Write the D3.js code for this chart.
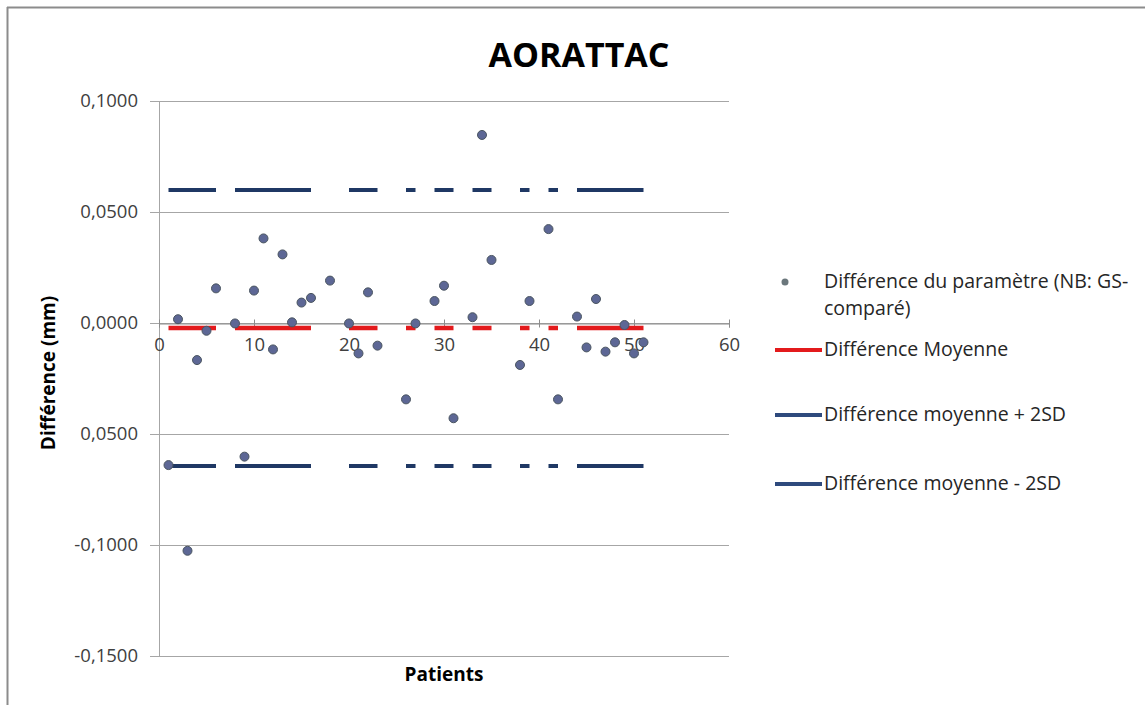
<!DOCTYPE html>
<html>
<head>
<meta charset="utf-8">
<script src="https://cdn.jsdelivr.net/npm/d3@7"></script>
<style>
  body { margin: 0; background: #fff; }
  text { font-family: "Open Sans", Carlito, Calibri, sans-serif; }
</style>
</head>
<body>
<svg class="chart" width="1145" height="705"></svg>
<script>
const patients = [1, 2, 3, 4, 5, 6, 8, 9, 10, 11, 12, 13, 14, 15, 16, 18, 20, 21, 22, 23,
  26, 27, 29, 30, 31, 33, 34, 35, 38, 39, 41, 42, 44, 45, 46, 47, 48, 49, 50, 51];
const differences = [-0.0640, 0.0017, -0.1026, -0.0167, -0.0035, 0.0156, -0.0002, -0.0602, 0.0146, 0.0381,
  -0.0119, 0.0309, 0.0003, 0.0092, 0.0113, 0.0191, -0.0002, -0.0137, 0.0138, -0.0102,
  -0.0344, -0.0002, 0.0099, 0.0168, -0.0429, 0.0026, 0.0847, 0.0284, -0.0189, 0.0099,
  0.0423, -0.0344, 0.0029, -0.0110, 0.0108, -0.0129, -0.0087, -0.0009, -0.0137, -0.0087];

// the line series are broken where a patient has no value
const linePatients = d3.range(1, 52);
const missingForLines = [7, 17, 19, 24, 25, 28, 32, 36, 37, 40, 43];
const meanDiff = -0.0023;
const upperLimit = 0.0599;
const lowerLimit = -0.0644;

const yTicks = [0.1, 0.05, 0, -0.05, -0.1, -0.15];
const yTickLabels = ["0,1000", "0,0500", "0,0000", "0,0500", "-0,1000", "-0,1500"];
const xTicks = [0, 10, 20, 30, 40, 50, 60];

const legendLabels = [
  ["Différence du paramètre (NB: GS-", "comparé)"],
  ["Différence Moyenne"],
  ["Différence moyenne + 2SD"],
  ["Différence moyenne - 2SD"]
];

const svg = d3.select(".chart");

// outer chart frame (only top and left edges are visible)
svg.append("line").attr("x1", 7).attr("x2", 1145).attr("y1", 7.5).attr("y2", 7.5)
  .attr("stroke", "#8c8c8c").attr("stroke-width", 2);
svg.append("line").attr("x1", 7.5).attr("x2", 7.5).attr("y1", 7).attr("y2", 705)
  .attr("stroke", "#8c8c8c").attr("stroke-width", 2);

const x = d3.scaleLinear().domain([0, 60]).range([159, 729]);
const y = d3.scaleLinear().domain([-0.15, 0.1]).range([656, 101]);

// gridlines + y ticks
const yAxis = d3.axisLeft(y).tickValues(yTicks)
  .tickFormat((d, i) => yTickLabels[i]).tickSize(9).tickPadding(12);
const gy = svg.append("g").attr("transform", "translate(159,0)").call(yAxis);
gy.select(".domain").attr("stroke", "#a6a6a6");
gy.selectAll(".tick line").attr("stroke", "#a6a6a6");
gy.selectAll(".tick text").attr("font-size", 18.5).attr("fill", "#404040");

svg.append("g").selectAll("line").data(yTicks).join("line")
  .attr("x1", 159).attr("x2", 729)
  .attr("y1", d => Math.round(y(d)) + 0.5).attr("y2", d => Math.round(y(d)) + 0.5)
  .attr("stroke", "#a6a6a6");

// x axis crosses at 0
const xAxis = d3.axisBottom(x).tickValues(xTicks).tickSize(4).tickPadding(10);
const gx = svg.append("g").attr("transform", `translate(0,${Math.round(y(0)) + 0.5})`).call(xAxis);
gx.select(".domain").attr("stroke", "#8c8c8c");
gx.selectAll(".tick line").attr("stroke", "#8c8c8c").attr("y1", -4);
gx.selectAll(".tick text").attr("font-size", 18.5).attr("fill", "#404040");

// reference lines
const line = d3.line()
  .defined(d => !missingForLines.includes(d))
  .x(d => x(d));

svg.append("path").datum(linePatients)
  .attr("fill", "none").attr("stroke", "#e31a1c").attr("stroke-width", 4.5)
  .attr("d", line.y(() => y(meanDiff)));
svg.append("path").datum(linePatients)
  .attr("fill", "none").attr("stroke", "#1f3864").attr("stroke-width", 4)
  .attr("d", line.y(() => y(upperLimit)));
svg.append("path").datum(linePatients)
  .attr("fill", "none").attr("stroke", "#1f3864").attr("stroke-width", 4)
  .attr("d", line.y(() => y(lowerLimit)));

// points
svg.append("g").selectAll("circle").data(patients).join("circle")
  .attr("cx", d => x(d))
  .attr("cy", (d, i) => y(differences[i]))
  .attr("r", 4.5)
  .attr("fill", "#5d6795")
  .attr("stroke", "#4a5560").attr("stroke-width", 1);

// titles
svg.append("text").attr("x", 579).attr("y", 67).attr("text-anchor", "middle")
  .attr("font-size", 34).attr("font-weight", "bold").attr("fill", "#000").text("AORATTAC");
svg.append("text").attr("transform", "translate(55,373) rotate(-90)").attr("text-anchor", "middle")
  .attr("font-size", 19).attr("font-weight", "bold").text("Différence (mm)");
svg.append("text").attr("x", 444).attr("y", 681).attr("text-anchor", "middle")
  .attr("font-size", 19).attr("font-weight", "bold").text("Patients");

// legend
const legendY = [282, 350, 415, 484];
const legend = svg.append("g");
legend.append("circle").attr("cx", 785).attr("cy", legendY[0]).attr("r", 3.5).attr("fill", "#6b777c");
legend.append("line").attr("x1", 775).attr("x2", 822).attr("y1", legendY[1]).attr("y2", legendY[1])
  .attr("stroke", "#e31a1c").attr("stroke-width", 4);
legend.append("line").attr("x1", 775).attr("x2", 822).attr("y1", legendY[2]).attr("y2", legendY[2])
  .attr("stroke", "#2e4a7d").attr("stroke-width", 4);
legend.append("line").attr("x1", 775).attr("x2", 822).attr("y1", legendY[3]).attr("y2", legendY[3])
  .attr("stroke", "#2e4a7d").attr("stroke-width", 4);

legendLabels.forEach((lines, i) => {
  const t = legend.append("text").attr("x", 824).attr("y", legendY[i] + 6)
    .attr("font-size", 19.5).attr("fill", "#262626");
  lines.forEach((s, j) => t.append("tspan").attr("x", 824).attr("dy", j ? 27 : 0).text(s));
});
</script>
</body>
</html>
